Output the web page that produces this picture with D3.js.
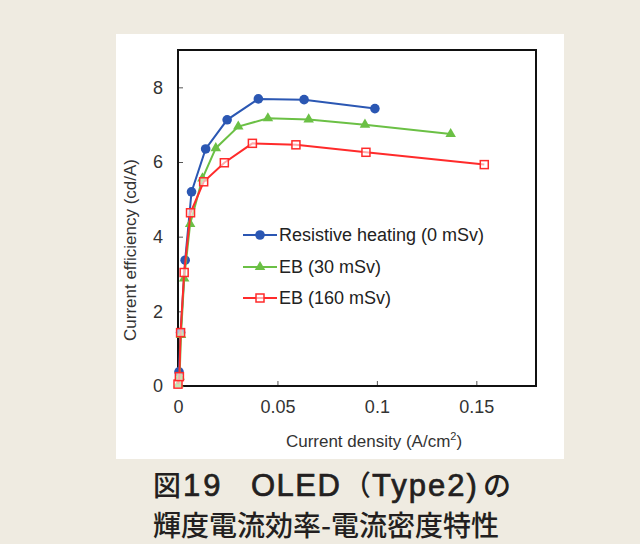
<!DOCTYPE html>
<html>
<head>
<meta charset="utf-8">
<script src="https://cdn.jsdelivr.net/npm/d3@7"></script>
<style>
  body { margin: 0; background: #efebe1; }
  svg { display: block; }
  .tick text { font-family: "Liberation Sans", Arial, sans-serif; font-size: 18px; fill: #333; }
  .axis-title { font-family: "Liberation Sans", Arial, sans-serif; font-size: 17px; fill: #333; }
  .legend-label { font-family: "Liberation Sans", Arial, sans-serif; font-size: 18px; fill: #222; }
  .caption { font-family: "Noto Sans CJK JP", sans-serif; font-size: 28px; font-weight: 500; fill: #231f20; }
  .caption .lat { font-family: "Liberation Sans", Arial, sans-serif; font-size: 31px; font-weight: normal;
                  stroke: #231f20; stroke-width: 0.7px; }
</style>
</head>
<body>
<svg id="chart" width="640" height="544"></svg>
<script>
// series data (x: A/cm2, y: cd/A)
const blueX = [0.0005, 0.0013, 0.0036, 0.0068, 0.0139, 0.0247, 0.0404, 0.0634, 0.0990];
const blueY = [0.38, 1.43, 3.37, 5.2, 6.35, 7.13, 7.69, 7.67, 7.43];

const greenX = [0.0003, 0.0008, 0.0015, 0.0031, 0.0061, 0.0123, 0.0190, 0.0303, 0.0452, 0.0657, 0.0940, 0.1371];
const greenY = [0.05, 0.25, 1.37, 2.88, 4.34, 5.56, 6.37, 6.95, 7.17, 7.14, 7.0, 6.75];

const redX = [0.0, 0.0007, 0.0013, 0.0031, 0.0063, 0.0129, 0.0233, 0.0374, 0.0593, 0.0945, 0.1540];
const redY = [0.05, 0.25, 1.43, 3.04, 4.64, 5.47, 5.98, 6.5, 6.46, 6.26, 5.93];

const seriesNames = ['Resistive heating (0 mSv)', 'EB (30 mSv)', 'EB (160 mSv)'];
const xTicks = [0, 0.05, 0.1, 0.15];
const yTicks = [0, 2, 4, 6, 8];

const series = [
  { name: seriesNames[0], xs: blueX, ys: blueY, color: '#2b57b3', marker: 'circle' },
  { name: seriesNames[1], xs: greenX, ys: greenY, color: '#6bc045', marker: 'triangle' },
  { name: seriesNames[2], xs: redX, ys: redY, color: '#ff2b2b', marker: 'square' },
];

const svg = d3.select('#chart');

// white panel
svg.append('rect')
  .attr('x', 116).attr('y', 34)
  .attr('width', 448).attr('height', 425)
  .attr('fill', '#fff');

const margin = { left: 178, top: 50 };
const width = 358, height = 336;

const xScale = d3.scaleLinear().domain([0, 0.18]).range([0, width]);
const yScale = d3.scaleLinear().domain([0, 9]).range([height, 0]);

const chart = svg.append('g').attr('transform', `translate(${margin.left},${margin.top})`);

// axes with inward ticks
const xAxis = d3.axisBottom(xScale).tickValues(xTicks).tickSize(-5).tickPadding(14)
  .tickFormat(d => d === 0 ? '0' : String(d));
const yAxis = d3.axisLeft(yScale).tickValues(yTicks).tickSize(-5).tickPadding(15);

const xAxisG = chart.append('g').attr('transform', `translate(0,${height})`).call(xAxis);
const yAxisG = chart.append('g').call(yAxis);
[xAxisG, yAxisG].forEach(g => {
  g.select('.domain').remove();
  g.selectAll('.tick line').attr('stroke', '#555').attr('stroke-width', 1);
});

// frame
chart.append('rect')
  .attr('width', width).attr('height', height)
  .attr('fill', 'none').attr('stroke', '#111').attr('stroke-width', 2);

const line = d3.line().x(d => xScale(d[0])).y(d => yScale(d[1]));

function drawMarker(g, type, color) {
  if (type === 'circle') {
    g.append('circle').attr('r', 4.8).attr('fill', color);
  } else if (type === 'triangle') {
    g.append('path').attr('d', d3.symbol(d3.symbolTriangle, 48)()).attr('fill', color);
  } else {
    g.append('rect').attr('x', -4).attr('y', -4).attr('width', 8).attr('height', 8)
      .attr('fill', '#fff').attr('fill-opacity', 0.6).attr('stroke', color).attr('stroke-width', 1.5);
  }
}

series.forEach(s => {
  const pts = s.xs.map((x, i) => [x, s.ys[i]]);
  chart.append('path')
    .datum(pts)
    .attr('d', line)
    .attr('fill', 'none')
    .attr('stroke', s.color)
    .attr('stroke-width', 2);
  chart.selectAll(null)
    .data(pts)
    .join('g')
    .attr('transform', d => `translate(${xScale(d[0])},${yScale(d[1])})`)
    .each(function () { drawMarker(d3.select(this), s.marker, s.color); });
});

// legend
const legend = svg.append('g').attr('transform', 'translate(243,235)');
series.forEach((s, i) => {
  const row = legend.append('g').attr('transform', `translate(0,${[0, 32, 63][i]})`);
  row.append('line').attr('x1', 0).attr('x2', 34).attr('stroke', s.color).attr('stroke-width', 2);
  const m = row.append('g').attr('transform', 'translate(17,0)');
  drawMarker(m, s.marker, s.color);
  row.append('text').attr('class', 'legend-label')
    .attr('x', 36).attr('dy', '0.36em').text(s.name);
});

// axis titles
svg.append('text').attr('class', 'axis-title')
  .attr('text-anchor', 'middle')
  .attr('transform', 'translate(136,250) rotate(-90)')
  .text('Current  efficiency (cd/A)');

const xt = svg.append('text').attr('class', 'axis-title')
  .attr('text-anchor', 'middle')
  .attr('font-size', '18px')
  .attr('x', 374).attr('y', 447);
xt.append('tspan').text('Current density (A/cm');
xt.append('tspan').attr('font-size', '11px').attr('dy', '-7').text('2');
xt.append('tspan').attr('dy', '7').text(')');

// caption, line 1 split into CJK and Latin runs
const cap1 = svg.append('text').attr('class', 'caption').attr('y', 496);
cap1.append('tspan').attr('x', 153).text('図');
cap1.append('tspan').attr('class', 'lat').attr('x', 183).attr('letter-spacing', 3).text('19');
cap1.append('tspan').attr('class', 'lat').attr('x', 251).attr('letter-spacing', 1.5).text('OLED');
cap1.append('tspan').attr('x', 343).text('（');
cap1.append('tspan').attr('class', 'lat').attr('x', 372).attr('letter-spacing', 2).text('Type2)');
cap1.append('tspan').attr('x', 483).text('の');

svg.append('text').attr('class', 'caption')
  .attr('x', 153).attr('y', 536)
  .text('輝度電流効率-電流密度特性');
</script>
</body>
</html>
